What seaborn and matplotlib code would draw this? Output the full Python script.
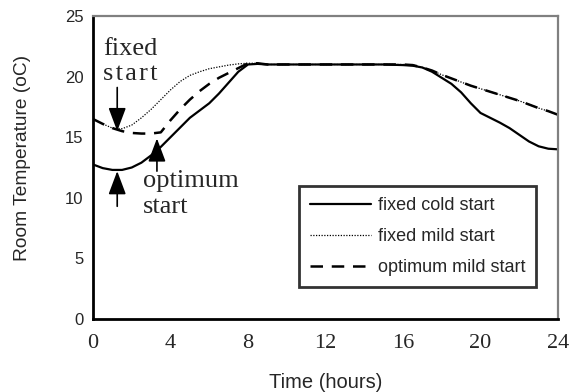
import numpy as np
import pandas as pd
import matplotlib
matplotlib.use("Agg")
import matplotlib.pyplot as plt
import seaborn as sns

# time axis (hours), half-hour steps
hours = [0, 0.5, 1, 1.5, 2, 2.5, 3, 3.5, 4, 4.5, 5, 5.5, 6, 6.5, 7, 7.5,
         8, 8.5, 9, 10, 11, 12, 13, 14, 15, 16, 16.5, 17, 17.5, 18, 18.5,
         19, 19.5, 20, 20.5, 21, 21.5, 22, 22.5, 23, 23.5, 24]

# room temperatures (oC)
fixed_cold = [12.75, 12.45, 12.3, 12.3, 12.5, 12.9, 13.5, 14.2, 15.0, 15.8,
              16.6, 17.2, 17.8, 18.6, 19.5, 20.4, 21.0, 21.05, 21.0, 21.0,
              21.0, 21.0, 21.0, 21.0, 21.0, 20.95, 20.9, 20.75, 20.4, 19.9,
              19.4, 18.7, 17.8, 17.0, 16.6, 16.2, 15.75, 15.2, 14.65, 14.25,
              14.05, 14.0]
fixed_mild = [16.5, 16.1, 15.75, 15.7, 16.0, 16.6, 17.3, 18.1, 18.9, 19.6,
              20.1, 20.4, 20.65, 20.8, 20.95, 21.05, 21.1, 21.1, 21.0, 21.0,
              21.0, 21.0, 21.0, 21.0, 21.0, 21.0, 20.95, 20.75, 20.5, 20.15,
              19.85, 19.55, 19.25, 19.0, 18.75, 18.5, 18.25, 18.0, 17.7, 17.4,
              17.15, 16.85]
optimum_mild = [16.5, 16.1, 15.75, 15.5, 15.35, 15.3, 15.3, 15.4, 16.4, 17.3,
                18.1, 18.8, 19.4, 19.9, 20.3, 20.7, 21.1, 21.1, 21.0, 21.0,
                21.0, 21.0, 21.0, 21.0, 21.0, 21.0, 20.95, 20.75, 20.5, 20.15,
                19.85, 19.55, 19.25, 19.0, 18.75, 18.5, 18.25, 18.0, 17.7, 17.4,
                17.15, 16.85]

series_names = ["fixed cold start", "fixed mild start", "optimum mild start"]

x_ticks = [0, 2, 4, 6, 8, 10, 12, 14, 16, 18, 20, 22, 24]
x_tick_labels = ["0", "", "4", "", "8", "", "12", "", "16", "", "20", "", "24"]
y_ticks = [0, 5, 10, 15, 20, 25]

df = pd.DataFrame({"hours": hours,
                   series_names[0]: fixed_cold,
                   series_names[1]: fixed_mild,
                   series_names[2]: optimum_mild})

sns.set_style("white")
plt.rcParams["font.family"] = ["Liberation Sans", "DejaVu Sans"]

fig = plt.figure(figsize=(5.88, 3.92), dpi=100)
ax = fig.add_axes([93 / 588, 1 - 319 / 392, 465 / 588, 303 / 392])

line_styles = [dict(linestyle="-", linewidth=1.6),
               dict(linestyle=(0, (1, 1.2)), linewidth=0.9),
               dict(linestyle=(0, (5, 3.5)), linewidth=1.8)]
for name, st in zip(series_names, line_styles):
    sns.lineplot(data=df, x="hours", y=name, ax=ax, color="black",
                 label=name, **st)

ax.set_xlim(0, 24)
ax.set_ylim(0, 25)
ax.set_xticks(x_ticks)
ax.set_xticklabels(x_tick_labels, family="Liberation Serif", fontsize=16)
ax.set_yticks(y_ticks)
ax.set_yticklabels([str(v) for v in y_ticks], fontsize=12)
ax.tick_params(direction="inout", length=8, width=2, color="black")
ax.tick_params(axis="x", pad=7)
ax.tick_params(axis="y", pad=3)

for side in ["left", "bottom"]:
    ax.spines[side].set_color("black")
    ax.spines[side].set_linewidth(2)
for side in ["top", "right"]:
    ax.spines[side].set_color("#808080")
    ax.spines[side].set_linewidth(1.6)

ax.set_xlabel("Time (hours)", fontsize=14.5)
ax.set_ylabel("Room Temperature (oC)", fontsize=13.8)
ax.xaxis.set_label_coords(0.5, -0.178)
ax.yaxis.set_label_coords(-0.133, 0.53)

leg = ax.legend(loc="lower right", bbox_to_anchor=(0.953, 0.106),
                fontsize=13, frameon=True, fancybox=False, handlelength=3.4,
                handletextpad=0.35, labelspacing=0.78, borderpad=0.6,
                borderaxespad=0)
leg.get_frame().set_edgecolor("black")
leg.get_frame().set_linewidth(2)

# annotations
serif = dict(family=["Liberation Serif", "DejaVu Serif"], fontsize=19,
             va="baseline")
hs = "\u200a"
ax.text(0.52, 21.8, "fixed", **serif)
ax.text(0.52, 19.7, hs.join("start"), **serif)
ax.text(2.58, 10.9, "optimum", **serif)
ax.text(2.58, 8.75, "start", **serif)

arrow = dict(arrowstyle="-|>,head_length=1.2,head_width=0.45", color="black",
             lw=1.2, mutation_scale=12, shrinkA=0, shrinkB=0)
ax.annotate("", xy=(1.25, 15.5), xytext=(1.25, 19.1), arrowprops=arrow)
ax.annotate("", xy=(1.25, 12.2), xytext=(1.25, 9.3), arrowprops=arrow)
ax.annotate("", xy=(3.3, 14.9), xytext=(3.3, 12.2), arrowprops=arrow)

fig.savefig("out.png", dpi=100)
